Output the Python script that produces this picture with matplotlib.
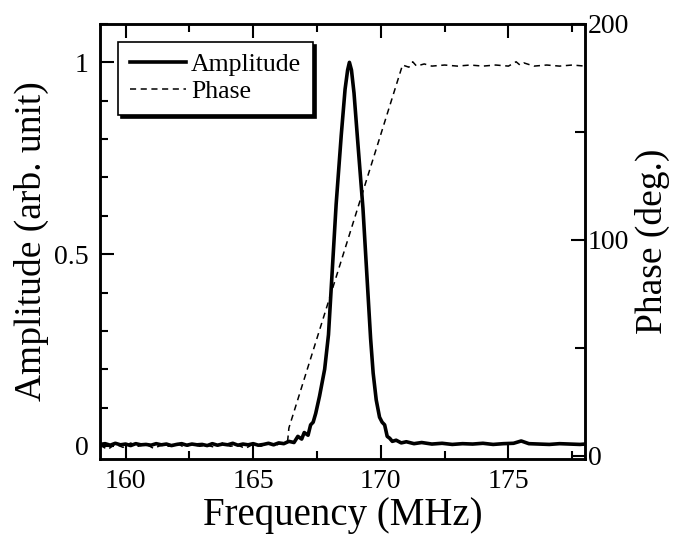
import matplotlib
matplotlib.use('Agg')
import matplotlib.pyplot as plt
from matplotlib.ticker import MultipleLocator

plt.rcParams['font.family'] = ['Liberation Serif', 'DejaVu Serif']

# amplitude trace
amp_freq = [159.0, 159.2, 159.4, 159.6, 159.8, 160.0, 160.2, 160.4, 160.6, 160.8,
            161.0, 161.2, 161.4, 161.6, 161.8, 162.0, 162.2, 162.4, 162.6, 162.8,
            163.0, 163.2, 163.4, 163.6, 163.8, 164.0, 164.2, 164.4, 164.6, 164.8,
            165.0, 165.2, 165.4, 165.6, 165.8, 166.0, 166.2, 166.4, 166.6, 166.75,
            166.9, 167.0, 167.15, 167.25, 167.35, 167.45, 167.6, 167.8, 167.95, 168.1,
            168.25, 168.45, 168.6, 168.7, 168.77, 168.85, 168.95, 169.1, 169.3, 169.45,
            169.6, 169.7, 169.82, 169.95, 170.05, 170.15, 170.25, 170.35, 170.45, 170.6,
            170.8, 171.0, 171.3, 171.6, 172.0, 172.4, 172.8, 173.2, 173.6, 174.0,
            174.4, 174.8, 175.2, 175.5, 175.8, 176.2, 176.6, 177.0, 177.4, 177.8, 178.0]
amp_vals = [0.004, 0.006, 0.002, 0.007, 0.003, 0.005, 0.001, 0.006, 0.003, 0.004,
            0.002, 0.006, 0.003, 0.005, 0.001, 0.004, 0.006, 0.002, 0.005, 0.003,
            0.004, 0.001, 0.006, 0.002, 0.005, 0.003, 0.007, 0.002, 0.005, 0.003,
            0.006, 0.002, 0.004, 0.007, 0.003, 0.008, 0.006, 0.012, 0.009, 0.025,
            0.018, 0.035, 0.028, 0.055, 0.062, 0.085, 0.13, 0.2, 0.29, 0.46,
            0.63, 0.81, 0.93, 0.98, 1.0, 0.98, 0.92, 0.79, 0.62, 0.45,
            0.28, 0.19, 0.12, 0.075, 0.062, 0.055, 0.025, 0.02, 0.012, 0.015,
            0.008, 0.011, 0.006, 0.009, 0.005, 0.007, 0.004, 0.006, 0.005, 0.007,
            0.004, 0.006, 0.007, 0.013, 0.006, 0.005, 0.004, 0.006, 0.005, 0.004, 0.005]

# phase trace
ph_freq = [159.0, 159.3, 159.6, 159.9, 160.2, 160.5, 160.8, 161.1, 161.4, 161.7,
           162.0, 162.3, 162.6, 162.9, 163.2, 163.5, 163.8, 164.1, 164.4, 164.7,
           165.0, 165.3, 165.6, 165.9, 166.2, 166.35, 166.4, 170.85, 171.1, 171.25,
           171.4, 171.7, 172.0, 172.5, 173.0, 173.5, 174.0, 174.5, 175.0, 175.3,
           175.45, 175.6, 176.0, 176.5, 177.0, 177.5, 178.0]
ph_vals = [5.0, 3.0, 5.5, 4.0, 6.0, 4.5, 5.5, 3.5, 5.0, 4.5,
           6.0, 4.0, 5.5, 4.5, 5.0, 4.0, 6.0, 4.5, 5.0, 3.5,
           5.5, 4.5, 6.0, 5.0, 6.5, 7.0, 13.0, 181.0, 180.0, 182.5,
           180.5, 181.5, 180.5, 181.0, 180.5, 181.0, 180.5, 181.0, 180.5, 182.5,
           181.0, 182.0, 180.5, 181.0, 180.5, 181.0, 180.5]

fig = plt.figure(figsize=(6.73, 5.39), dpi=100)
ax = fig.add_axes([0.1486, 0.1484, 0.7207, 0.8071])
ax2 = ax.twinx()

l1, = ax.plot(amp_freq, amp_vals, color='black', lw=2.6, label='Amplitude')
l2, = ax2.plot(ph_freq, ph_vals, color='black', lw=1.1, linestyle=(0, (4, 3)), label='Phase')

ax.set_xlim(159, 178)
ax.set_ylim(-0.034, 1.1)
ax2.set_ylim(-1.4, 200)

ax.xaxis.set_major_locator(MultipleLocator(5))
ax.xaxis.set_minor_locator(MultipleLocator(2.5))
ax.yaxis.set_minor_locator(MultipleLocator(0.1))
ax2.yaxis.set_major_locator(MultipleLocator(100))
ax2.yaxis.set_minor_locator(MultipleLocator(50))
ax.set_yticks([0, 0.5, 1])
ax.set_yticklabels(['0', '0.5', '1'])

ax.tick_params(axis='x', which='both', direction='in', top=True, labelsize=20, width=1.5, pad=7)
ax.tick_params(axis='x', which='major', length=10)
ax.tick_params(axis='x', which='minor', length=6)
ax.tick_params(axis='y', which='both', direction='in', labelsize=20, width=1.5, pad=8)
ax.tick_params(axis='y', which='major', length=10)
ax.tick_params(axis='y', which='minor', length=6)
ax2.tick_params(axis='y', which='both', direction='in', labelsize=20, width=1.5, pad=2)
ax2.tick_params(axis='y', which='major', length=10)
ax2.tick_params(axis='y', which='minor', length=7)

for a in (ax, ax2):
    for s in a.spines.values():
        s.set_linewidth(1.8)

ax.set_xlabel('Frequency (MHz)', fontsize=28, labelpad=2)
ax.set_ylabel('Amplitude (arb. unit)', fontsize=27, labelpad=4)
ax2.set_ylabel('Phase (deg.)', fontsize=27, labelpad=4)

leg = ax2.legend(handles=[l1, l2], loc='upper left', bbox_to_anchor=(0.037, 0.959),
                 borderaxespad=0, fontsize=18.5, frameon=True, fancybox=False,
                 shadow={'color': 'black', 'alpha': 1}, framealpha=1,
                 handlelength=2.2, handletextpad=0.2, labelspacing=0.15,
                 borderpad=0.45)
leg.get_frame().set_edgecolor('black')
leg.get_frame().set_linewidth(1.2)

fig.savefig('out.png', dpi=100)
